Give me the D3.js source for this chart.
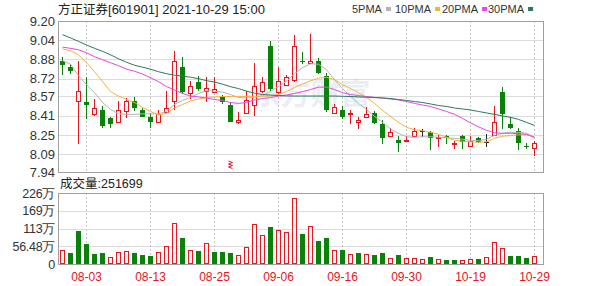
<!DOCTYPE html>
<html>
<head>
<meta charset="utf-8">
<script src="https://cdnjs.cloudflare.com/ajax/libs/d3/7.8.5/d3.min.js"></script>
<style>
  body { margin: 0; background: #fff; }
  #vis-kline text { font-family: "Liberation Sans", Arial, sans-serif; }
  #vis-kline .cjk { font-family: "Noto Sans CJK SC", sans-serif; }
</style>
</head>
<body>
<div id="vis-kline"></div>
<script>
// daily k-line for 方正证券, 07-29 .. 10-29 (60 trading days)
const dates = ['07-29','07-30','08-02','08-03','08-04','08-05','08-06','08-09','08-10','08-11',
  '08-12','08-13','08-16','08-17','08-18','08-19','08-20','08-23','08-24','08-25',
  '08-26','08-27','08-30','08-31','09-01','09-02','09-03','09-06','09-07','09-08',
  '09-09','09-10','09-13','09-14','09-15','09-16','09-17','09-22','09-23','09-24',
  '09-27','09-28','09-29','09-30','10-08','10-11','10-12','10-13','10-14','10-15',
  '10-18','10-19','10-20','10-21','10-22','10-25','10-26','10-27','10-28','10-29'];

const openPx = [8.87,8.82,8.53,8.52,8.42,8.46,8.39,8.36,8.45,8.53,
  8.46,8.40,8.36,8.44,8.53,8.82,8.60,8.69,8.62,8.61,
  8.57,8.50,8.36,8.43,8.50,8.62,8.99,8.61,8.67,8.71,
  8.87,8.85,8.87,8.74,8.43,8.46,8.42,8.36,8.40,8.43,
  8.34,8.24,8.21,8.20,8.24,8.28,8.27,8.22,8.24,8.17,
  8.24,8.16,8.22,8.19,8.25,8.61,8.34,8.28,8.16,8.14];
const highPx = [8.90,8.84,8.87,8.73,8.55,8.49,8.40,8.53,8.56,8.57,
  8.47,8.43,8.46,8.62,8.95,8.90,8.70,8.74,8.73,8.73,
  8.58,8.52,8.44,8.62,8.85,8.73,9.03,8.82,8.75,9.08,
  8.94,9.09,8.89,8.77,8.51,8.49,8.46,8.40,8.48,8.45,
  8.37,8.31,8.24,8.24,8.31,8.30,8.28,8.25,8.25,8.20,
  8.25,8.24,8.23,8.26,8.49,8.65,8.40,8.31,8.18,8.20];
const lowPx = [8.75,8.76,8.17,8.38,8.41,8.31,8.31,8.35,8.39,8.45,
  8.40,8.31,8.35,8.43,8.46,8.59,8.55,8.62,8.52,8.60,
  8.51,8.36,8.34,8.42,8.41,8.60,8.62,8.59,8.67,8.69,
  8.84,8.84,8.76,8.44,8.42,8.38,8.34,8.30,8.39,8.34,
  8.17,8.23,8.11,8.20,8.24,8.23,8.12,8.15,8.17,8.13,
  8.13,8.15,8.18,8.15,8.24,8.30,8.30,8.12,8.13,8.07];
const closePx = [8.83,8.78,8.62,8.50,8.47,8.32,8.34,8.46,8.53,8.47,
  8.40,8.36,8.42,8.47,8.87,8.61,8.66,8.63,8.64,8.63,
  8.52,8.36,8.37,8.54,8.66,8.69,8.63,8.70,8.73,8.99,
  8.86,8.87,8.77,8.46,8.48,8.40,8.43,8.37,8.42,8.35,
  8.22,8.27,8.18,8.21,8.28,8.28,8.22,8.23,8.22,8.18,
  8.19,8.20,8.19,8.19,8.36,8.42,8.31,8.18,8.15,8.18];
// close of 07-28, only used to colour the first volume bar
const prevClose = 8.80;

// volume in 万手
const volumes = [44.5,36,105,62.6,31.8,36,21.3,37.1,40.3,36,
  28.6,25.4,38.2,58.3,131.5,83.8,44.5,42.4,65.8,39,
  39,36,28.6,55,127,92,117,108,102,209,
  94.5,121,73,84,44.5,44.5,31.8,34,31.8,28.6,
  34,18,28.6,18,18,15,21,15,12.7,12.7,
  12.7,15,15,21,71,52,25.4,25.4,18,25.17];

// moving averages
const ma5 = [8.87,8.84,8.744,8.669,8.603,8.52,8.462,8.425,8.421,8.421,
  8.425,8.425,8.425,8.445,8.503,8.537,8.562,8.595,8.619,8.615,
  8.607,8.586,8.562,8.557,8.562,8.578,8.611,8.653,8.698,8.76,
  8.81,8.843,8.839,8.794,8.711,8.636,8.57,8.512,8.462,8.404,
  8.354,8.30,8.263,8.234,8.23,8.234,8.234,8.23,8.226,8.221,
  8.213,8.205,8.20,8.213,8.246,8.263,8.271,8.271,8.263,8.23];
const ma10 = [8.968,8.951,8.918,8.852,8.777,8.694,8.611,8.574,8.545,8.52,
  8.479,8.445,8.416,8.429,8.474,8.503,8.532,8.549,8.562,8.566,
  8.57,8.57,8.571,8.572,8.572,8.572,8.574,8.586,8.611,8.644,
  8.673,8.702,8.723,8.731,8.711,8.669,8.636,8.603,8.562,8.512,
  8.454,8.404,8.354,8.313,8.292,8.284,8.271,8.255,8.23,8.205,
  8.197,8.192,8.188,8.192,8.221,8.238,8.244,8.25,8.25,8.23];
const ma20 = [8.982,8.972,8.96,8.935,8.902,8.877,8.852,8.827,8.798,8.781,
  8.757,8.727,8.694,8.653,8.624,8.595,8.574,8.566,8.557,8.545,
  8.537,8.52,8.512,8.52,8.541,8.553,8.561,8.574,8.582,8.595,
  8.611,8.628,8.648,8.648,8.628,8.603,8.586,8.578,8.57,8.562,
  8.557,8.549,8.541,8.528,8.512,8.499,8.487,8.466,8.445,8.421,
  8.387,8.35,8.317,8.288,8.267,8.263,8.263,8.26,8.255,8.23];
const ma30 = [9.086,9.059,9.03,9.00,8.972,8.947,8.918,8.885,8.856,8.831,
  8.815,8.798,8.777,8.76,8.748,8.74,8.731,8.719,8.702,8.69,
  8.673,8.652,8.636,8.615,8.598,8.586,8.582,8.578,8.575,8.574,
  8.574,8.574,8.574,8.574,8.574,8.572,8.570,8.567,8.564,8.562,
  8.558,8.553,8.545,8.537,8.528,8.52,8.508,8.495,8.487,8.474,
  8.466,8.458,8.445,8.433,8.421,8.408,8.396,8.379,8.354,8.329];

const maNames = ['5PMA','10PMA','20PMA','30PMA'];
const maColors = ['#b4b4b4','#f7b239','#e845e8','#2b7a58'];

const priceTicks = [9.20,9.04,8.88,8.72,8.57,8.41,8.25,8.09,7.94];
const volTicks = [0,56.48,112.96,169.44,225.92];
const volTickLabels = ['0','56.48万','113万','169万','226万'];
const dateTicks = ['08-03','08-13','08-25','09-06','09-16','09-30','10-19','10-29'];
const exRightsDate = '08-27';

const stockTitle = '方正证券[601901]';
const stampText = '2021-10-29  15:00';
const volLabel = '成交量';
const lastVolume = 251699;

(function () {
  const width = 600, height = 286;
  const left = 58, right = 543;
  const main = { top: 21, bottom: 172 };
  const vol = { top: 193, bottom: 264 };

  const red = '#e8141e', green = '#0a820a', flat = '#222';

  const rows = dates.map((d, i) => ({
    date: d, open: openPx[i], high: highPx[i], low: lowPx[i], close: closePx[i],
    vol: volumes[i], prev: i === 0 ? prevClose : closePx[i - 1]
  }));

  const svg = d3.select('#vis-kline')
    .append('svg')
    .attr('width', width)
    .attr('height', height);

  // each trading day gets a slot of 8px
  const x = d3.scaleBand().domain(dates).range([left, left + 8 * dates.length]);
  const cx = d => Math.round(x(d) + x.bandwidth() / 2);

  const y = d3.scaleLinear().domain([7.94, 9.20]).range([main.bottom, main.top]);
  const yv = d3.scaleLinear().domain([0, 225.92]).range([vol.bottom, vol.top]);

  const snap = v => Math.round(v) + 0.5;

  // --- grids ---
  const drawPanel = (top, bottom, ticks, scale) => {
    const g = svg.append('g').attr('shape-rendering', 'crispEdges');
    g.selectAll('line.h').data(ticks).enter().append('line')
      .attr('x1', left).attr('x2', right)
      .attr('y1', d => snap(scale(d))).attr('y2', d => snap(scale(d)))
      .attr('stroke', '#dcdcdc');
    g.selectAll('line.v').data(dateTicks).enter().append('line')
      .attr('x1', d => cx(d) + 0.5).attr('x2', d => cx(d) + 0.5)
      .attr('y1', top).attr('y2', bottom)
      .attr('stroke', '#c8c8c8').attr('stroke-dasharray', '2,2');
    g.append('rect')
      .attr('x', left + 0.5).attr('y', top + 0.5)
      .attr('width', right - left).attr('height', bottom - top)
      .attr('fill', 'none').attr('stroke', '#a0a0a0');
  };
  drawPanel(main.top, main.bottom, priceTicks, y);
  drawPanel(vol.top, vol.bottom, volTicks, yv);

  // faint watermark
  svg.append('text')
    .attr('class', 'cjk')
    .attr('x', (left + right) / 2 + 10).attr('y', 104)
    .attr('text-anchor', 'middle')
    .attr('font-size', 30).attr('font-weight', 'bold')
    .attr('fill', '#c9d6ea').attr('opacity', 0.4)
    .text('东方财富');

  // --- axes labels ---
  svg.append('g').selectAll('text').data(priceTicks).enter().append('text')
    .attr('x', 55).attr('y', d => y(d))
    .attr('dy', '0.36em').attr('text-anchor', 'end')
    .attr('font-size', 13).attr('fill', '#333')
    .text(d => d.toFixed(2));

  svg.append('g').selectAll('text').data(volTicks).enter().append('text')
    .attr('x', 55).attr('y', d => yv(d))
    .attr('dy', '0.36em').attr('text-anchor', 'end')
    .attr('font-size', 12.5).attr('fill', '#333')
    .attr('letter-spacing', -0.3)
    .text((d, i) => volTickLabels[i]);

  svg.append('g').selectAll('text').data(dateTicks).enter().append('text')
    .attr('x', d => cx(d) + 0.5).attr('y', 277)
    .attr('dy', '0.36em').attr('text-anchor', 'middle')
    .attr('font-size', 12).attr('fill', red)
    .text(d => d);

  // --- candles ---
  const colorOf = d => d.close > d.open ? red : (d.close < d.open ? green : flat);
  const cg = svg.append('g').attr('shape-rendering', 'crispEdges');
  const candle = cg.selectAll('g').data(rows).enter().append('g');

  candle.append('line')
    .attr('x1', d => cx(d.date) + 0.5).attr('x2', d => cx(d.date) + 0.5)
    .attr('y1', d => y(d.high)).attr('y2', d => y(d.low))
    .attr('stroke', colorOf);

  // down days solid green, flat days a short bar
  candle.filter(d => d.close <= d.open).append('rect')
    .attr('x', d => cx(d.date) - 2)
    .attr('y', d => y(d.open))
    .attr('width', 5)
    .attr('height', d => Math.max(1, y(d.close) - y(d.open)))
    .attr('fill', colorOf);

  // up days hollow red
  candle.filter(d => d.close > d.open).append('rect')
    .attr('x', d => cx(d.date) - 1.5)
    .attr('y', d => Math.round(y(d.close)) + 0.5)
    .attr('width', 4)
    .attr('height', d => Math.max(1, Math.round(y(d.open)) - Math.round(y(d.close))))
    .attr('fill', '#fff').attr('stroke', red);

  // moving average lines
  const maSeries = [ma5, ma10, ma20, ma30];
  const lineGen = d3.line().x((d, i) => cx(dates[i]) + 0.5).y(d => y(d));
  maSeries.forEach((s, k) => {
    svg.append('path')
      .datum(s)
      .attr('d', lineGen)
      .attr('fill', 'none')
      .attr('stroke', maColors[k])
      .attr('stroke-width', 1);
  });

  // ex-rights marker under 08-27
  const ex = cx(exRightsDate) + 0.5;
  svg.append('path')
    .attr('d', `M${ex - 2},${161} L${ex + 2},${162.5} L${ex - 2},${164} L${ex + 2},${165.5} L${ex - 2},${167} L${ex + 2},${168.5}`)
    .attr('fill', 'none').attr('stroke', red).attr('stroke-width', 1);

  // --- volume bars ---
  const vg = svg.append('g').attr('shape-rendering', 'crispEdges');
  const isUp = d => d.close >= d.prev;
  vg.selectAll('rect.dn').data(rows.filter(d => !isUp(d))).enter().append('rect')
    .attr('x', d => cx(d.date) - 2)
    .attr('y', d => yv(d.vol))
    .attr('width', 5)
    .attr('height', d => vol.bottom - yv(d.vol))
    .attr('fill', green);
  vg.selectAll('rect.up').data(rows.filter(isUp)).enter().append('rect')
    .attr('x', d => cx(d.date) - 1.5)
    .attr('y', d => Math.round(yv(d.vol)) + 0.5)
    .attr('width', 4)
    .attr('height', d => vol.bottom - Math.round(yv(d.vol)) - 1)
    .attr('fill', '#fff').attr('stroke', red);

  // --- title + legend ---
  const title = svg.append('text').attr('x', 58).attr('y', 9).attr('dy', '0.36em')
    .attr('font-size', 13).attr('fill', '#222');
  title.append('tspan').attr('class', 'cjk').attr('font-size', 12.5).text(stockTitle.slice(0, 4));
  title.append('tspan').text(stockTitle.slice(4) + ' ' + stampText);

  const legend = svg.append('g');
  const legendX = [352, 395, 442, 488];
  maNames.forEach((n, k) => {
    const t = legend.append('text')
      .attr('x', legendX[k]).attr('y', 9).attr('dy', '0.36em')
      .attr('font-size', 11).attr('fill', '#333')
      .text(n);
    const w = t.node().getComputedTextLength();
    legend.append('rect')
      .attr('x', legendX[k] + w + 4).attr('y', 7)
      .attr('width', 5).attr('height', 4)
      .attr('fill', maColors[k]);
  });

  const vt = svg.append('text').attr('x', 60).attr('y', 183).attr('dy', '0.36em')
    .attr('font-size', 12.5).attr('fill', '#222');
  vt.append('tspan').attr('class', 'cjk').text(volLabel);
  vt.append('tspan').text(':' + lastVolume);
})();
</script>
</body>
</html>
